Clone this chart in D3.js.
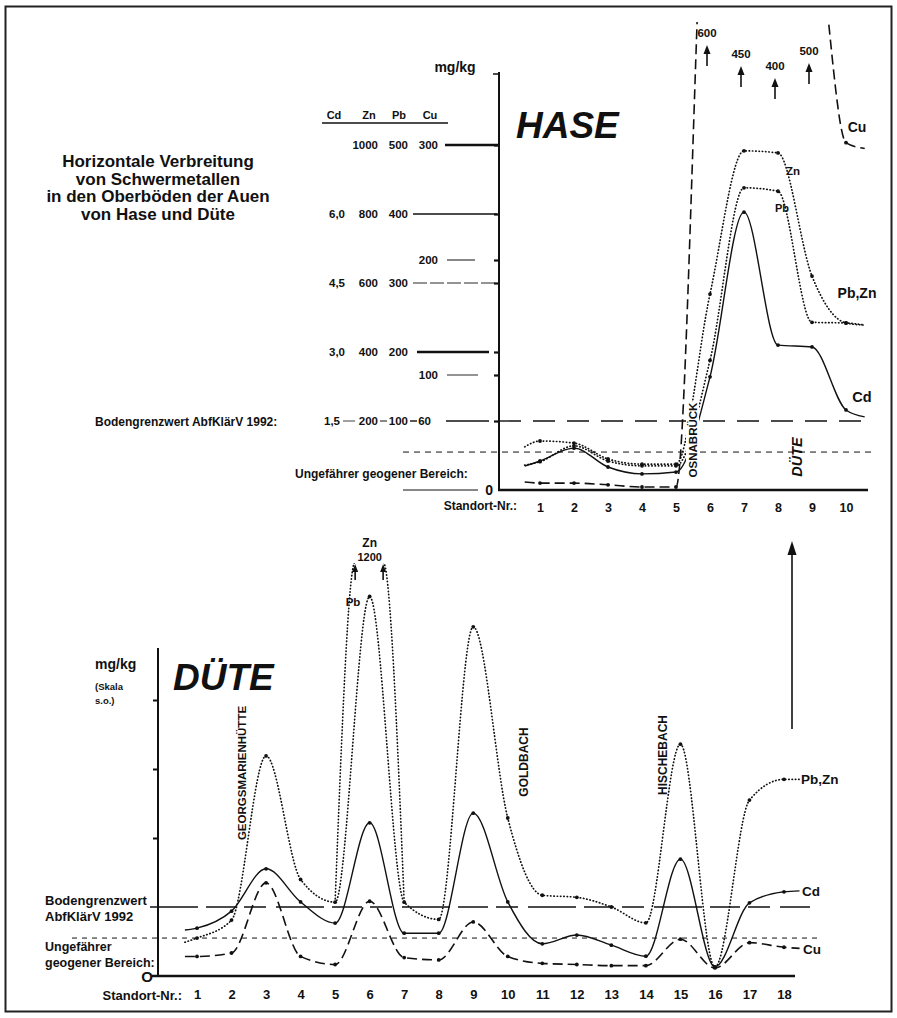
<!DOCTYPE html>
<html>
<head>
<meta charset="utf-8">
<script src="https://cdn.jsdelivr.net/npm/d3@7"></script>
<style>
  body { margin: 0; background: #fff; }
  svg { font-family: "Liberation Sans", Arial, sans-serif; font-weight: bold; }
  text { fill: #111; }
</style>
</head>
<body>
<script>
// ---------- data ----------
// Hase: Standort 1-10, first/last entry = where the drawn line starts/ends
var haseSites = [1, 2, 3, 4, 5, 6, 7, 8, 9, 10];
var haseLinePos = [0.55, 1, 2, 3, 4, 5, 6, 7, 8, 9, 10, 10.55];
var haseCd = [0.52, 0.63, 0.91, 0.50, 0.35, 0.39, 2.46, 6.04, 3.15, 3.11, 1.74, 1.59];
var haseZn = [125, 142, 136, 90, 75, 75, 568, 983, 977, 620, 484, 478];
var hasePb = [36, 41, 64, 42, 35, 35, 188, 438, 433, 243, 242, 239];
var haseCu = [7, 6, 6, 4.5, 2.6, 2.6, 600, 450, 400, 500, 302, 297];
// off-scale Cu values written at the arrows
var haseCuArrowSites = [6, 7, 8, 9];
var haseCuArrowLabels = ["600", "450", "400", "500"];

// multi-scale tick table (Cd, Zn, Pb, Cu)
var tickCd = ["", "6,0", "", "4,5", "3,0", "", "1,5"];
var tickZn = ["1000", "800", "", "600", "400", "", "200"];
var tickPb = ["500", "400", "", "300", "200", "", "100"];
var tickCu = ["300", "", "200", "", "", "100", "60"];

var grenzwertZn = 200;   // Bodengrenzwert AbfKlärV 1992 (Zn-Skala)
var geogenZn = 110;      // ungefährer geogener Bereich

// Düte: Standort 1-18
var duteSites = d3.range(1, 19);
var duteLinePos = [0.65].concat(duteSites, [18.45]);
var duteCd = [1.0, 1.04, 1.41, 2.33, 1.61, 1.15, 3.33, 0.93, 0.93, 3.54, 1.61, 0.70, 0.89, 0.67, 0.43, 2.54, 0.20, 1.59, 1.83, 1.85];
var dutePbZn = [49, 55, 81, 319, 140, 107, 550, 107, 82, 506, 229, 117, 114, 100, 77, 336, 13, 255, 285, 285]; // Pb-Skala
var duteCu = [17, 17, 20, 81, 17, 10, 65, 16, 14, 47, 17, 11, 10, 9, 9, 32, 7, 29, 25, 24];
// Zn at Standort 6 leaves the scale (1200)
var duteZnPos = [5, 5.58, 6.39, 7];
var duteZnVal = [214, 1200, 1200, 214];

// ---------- svg ----------
var svg = d3.select("body").append("svg")
  .attr("width", 897)
  .attr("height", 1018);

svg.append("rect")
  .attr("x", 5.5).attr("y", 6.5)
  .attr("width", 886).attr("height", 1005)
  .attr("fill", "none").attr("stroke", "#222").attr("stroke-width", 2);

var defs = svg.append("defs");

var lineGen = d3.line()
  .curve(d3.curveMonotoneX)
  .x(function(d) { return d[0]; })
  .y(function(d) { return d[1]; });

var styles = {
  cd: { dash: null, w: 1.4, cap: "butt" },
  dot: { dash: "0.4,2.9", w: 1.7, cap: "round" },
  cu: { dash: "10,5", w: 1.6, cap: "butt" }
};

function drawSeries(g, pos, vals, xs, ys, st, withDots, minY) {
  var pts = pos.map(function(p, i) { return [xs(p), ys(vals[i])]; });
  g.append("path")
    .datum(pts)
    .attr("d", lineGen)
    .attr("fill", "none")
    .attr("stroke", "#111")
    .attr("stroke-width", st.w)
    .attr("stroke-linecap", st.cap)
    .attr("stroke-dasharray", st.dash);
  if (withDots) {
    pos.forEach(function(p, i) {
      var y = ys(vals[i]);
      if (Number.isInteger(p) && y > minY) {
        g.append("circle").attr("cx", xs(p)).attr("cy", y).attr("r", 1.9).attr("fill", "#111");
      }
    });
  }
}

function upArrow(g, x, yTop, yBottom, hw, hl) {
  g.append("line").attr("x1", x).attr("x2", x).attr("y1", yBottom).attr("y2", yTop + hl - 1)
    .attr("stroke", "#111").attr("stroke-width", 1.6);
  g.append("path")
    .attr("d", "M" + x + "," + yTop + "L" + (x - hw) + "," + (yTop + hl) + "L" + (x + hw) + "," + (yTop + hl) + "Z")
    .attr("fill", "#111");
}

function vText(g, x, y, txt, size, italic) {
  g.append("text")
    .attr("transform", "translate(" + x + "," + y + ") rotate(-90)")
    .attr("text-anchor", "middle")
    .attr("dy", "0.36em")
    .style("font-size", size + "px")
    .style("font-style", italic ? "italic" : "normal")
    .text(txt);
}

// ---------- title ----------
var titleLines = ["Horizontale Verbreitung", "von Schwermetallen", "in den Oberböden der Auen", "von Hase und Düte"];
svg.append("g").selectAll("text").data(titleLines).join("text")
  .attr("x", 158)
  .attr("y", function(d, i) { return 167 + i * 17.6; })
  .attr("text-anchor", "middle")
  .style("font-size", "17px")
  .text(function(d) { return d; });

// =====================================================
// HASE
// =====================================================
var hase = svg.append("g");
var hx = d3.scaleLinear().domain([1, 10]).range([540, 846]);
var hZn = d3.scaleLinear().domain([0, 1000]).range([490, 145]);
var hCd = hZn.copy().domain([0, 7.5]);
var hPb = hZn.copy().domain([0, 500]);
var hCu = hZn.copy().domain([0, 300]);

// plot clip: lines run off the top of the page; between Standort 6 and 9 the
// off-scale Cu stretch stays hidden
var hClip = defs.append("clipPath").attr("id", "haseClip");
hClip.append("rect").attr("x", 500).attr("y", 22).attr("width", hx(6) - 500).attr("height", 472);
hClip.append("rect").attr("x", hx(6)).attr("y", 45).attr("width", hx(9) - hx(6)).attr("height", 449);
hClip.append("rect").attr("x", hx(9)).attr("y", 22).attr("width", 880 - hx(9)).attr("height", 472);

// tick table
var rowY = tickCu.map(function(c, i) { return tickZn[i] ? hZn(+tickZn[i]) : hCu(+c); });
var rowLine = [[445, 499], [413, 497], [447, 475], [413, 497], [417, 489], [447, 478], [446, 489]];
var rowW = [2.4, 1.6, 1, 0.9, 2.6, 0.9, 1.3];
var colEnd = [345, 378, 408, 438];

hase.append("text").attr("x", 455).attr("y", 72).attr("text-anchor", "middle")
  .style("font-size", "14px").text("mg/kg");

["Cd", "Zn", "Pb", "Cu"].forEach(function(h, i) {
  hase.append("text").attr("x", [334, 369, 399, 430][i]).attr("y", 119)
    .attr("text-anchor", "middle").style("font-size", "11px").text(h);
});
hase.append("line").attr("x1", 322).attr("x2", 448).attr("y1", 123).attr("y2", 123)
  .attr("stroke", "#111").attr("stroke-width", 1.3);

rowY.forEach(function(y, i) {
  var cols = [tickCd[i], tickZn[i], tickPb[i], tickCu[i]];
  var last = i === rowY.length - 1;
  cols.forEach(function(t, j) {
    if (!t) return;
    hase.append("text")
      .attr("x", last ? [340, 378, 408, 431][j] : colEnd[j])
      .attr("y", y + 4.3)
      .attr("text-anchor", "end")
      .style("font-size", "11.5px")
      .text(t);
  });
  if (last) {
    [[343, 355, 0.8], [380, 387, 1], [410, 417, 1.4]].forEach(function(s) {
      hase.append("line").attr("x1", s[0]).attr("x2", s[1]).attr("y1", y).attr("y2", y)
        .attr("stroke", "#111").attr("stroke-width", s[2]);
    });
  }
  hase.append("line")
    .attr("x1", rowLine[i][0]).attr("x2", rowLine[i][1])
    .attr("y1", y).attr("y2", y)
    .attr("stroke", "#111").attr("stroke-width", rowW[i])
    .attr("stroke-dasharray", i === 3 ? "14,3" : null);
});

// axis ticks on the y-axis
hase.append("g")
  .attr("transform", "translate(499,0)")
  .call(d3.axisLeft(hZn).tickValues(rowY.map(function(y) { return hZn.invert(y); })).tickSize(5).tickFormat(""))
  .call(function(g) { g.select(".domain").remove(); })
  .selectAll("line").attr("stroke", "#111").attr("stroke-width", 2.2);

// y-axis line
hase.append("line").attr("x1", 499).attr("x2", 499).attr("y1", 72).attr("y2", 491)
  .attr("stroke", "#111").attr("stroke-width", 2);
hase.append("line").attr("x1", 493).attr("x2", 499).attr("y1", 74).attr("y2", 74)
  .attr("stroke", "#111").attr("stroke-width", 1.5);

// reference lines
hase.append("line").attr("x1", 499).attr("x2", 872)
  .attr("y1", hZn(grenzwertZn)).attr("y2", hZn(grenzwertZn))
  .attr("stroke", "#111").attr("stroke-width", 1.4).attr("stroke-dasharray", "22,12");
hase.append("line").attr("x1", 403).attr("x2", 872)
  .attr("y1", hZn(geogenZn)).attr("y2", hZn(geogenZn))
  .attr("stroke", "#111").attr("stroke-width", 1).attr("stroke-dasharray", "6,5");

hase.append("text").attr("x", 95).attr("y", hZn(grenzwertZn) + 4.5)
  .style("font-size", "12px").text("Bodengrenzwert AbfKlärV 1992:");
hase.append("text").attr("x", 295).attr("y", 478)
  .style("font-size", "12px").text("Ungefährer geogener Bereich:");

// zero line + x-axis
hase.append("line").attr("x1", 403).attr("x2", 478).attr("y1", hZn(0)).attr("y2", hZn(0))
  .attr("stroke", "#111").attr("stroke-width", 1);
hase.append("text").attr("x", 493).attr("y", hZn(0) + 5).attr("text-anchor", "end")
  .style("font-size", "14px").text("0");
hase.append("line").attr("x1", 498).attr("x2", 868).attr("y1", hZn(0)).attr("y2", hZn(0))
  .attr("stroke", "#111").attr("stroke-width", 2.6);

hase.append("g")
  .attr("transform", "translate(0," + hZn(0) + ")")
  .call(d3.axisBottom(hx).tickValues(haseSites).tickSize(0).tickPadding(13).tickFormat(d3.format("d")))
  .call(function(g) { g.select(".domain").remove(); })
  .selectAll("text").style("font-size", "12.5px").style("font-family", "inherit").attr("fill", "#111");
hase.append("text").attr("x", 517).attr("y", 510).attr("text-anchor", "end")
  .style("font-size", "12px").text("Standort-Nr.:");

hase.append("text").attr("x", 516).attr("y", 138)
  .style("font-size", "37px").style("font-style", "italic").text("HASE");

// series
var hPlot = hase.append("g").attr("clip-path", "url(#haseClip)");
drawSeries(hPlot, haseLinePos, haseCu, hx, hCu, styles.cu, true, 30);
drawSeries(hPlot, haseLinePos, haseZn, hx, hZn, styles.dot, true, 30);
drawSeries(hPlot, haseLinePos, hasePb, hx, hPb, styles.dot, true, 30);
drawSeries(hPlot, haseLinePos, haseCd, hx, hCd, styles.cd, true, 30);

// off-scale arrows for Cu
var arrowTops = [45, 66, 78, 63];
haseCuArrowSites.forEach(function(s, i) {
  var x = hx(s) - 3;
  upArrow(hase, x, arrowTops[i], arrowTops[i] + 21, 3.5, 9);
  hase.append("text").attr("x", x).attr("y", arrowTops[i] - 8).attr("text-anchor", "middle")
    .style("font-size", "11.5px").text(haseCuArrowLabels[i]);
});

// series labels
hase.append("text").attr("x", 857).attr("y", 132).attr("text-anchor", "middle").style("font-size", "14px").text("Cu");
hase.append("text").attr("x", 793).attr("y", 175).attr("text-anchor", "middle").style("font-size", "11.5px").text("Zn");
hase.append("text").attr("x", 782).attr("y", 212).attr("text-anchor", "middle").style("font-size", "11px").text("Pb");
hase.append("text").attr("x", 857).attr("y", 298).attr("text-anchor", "middle").style("font-size", "14px").text("Pb,Zn");
hase.append("text").attr("x", 862).attr("y", 402).attr("text-anchor", "middle").style("font-size", "14.5px").text("Cd");

// river labels
hase.append("rect").attr("x", 686).attr("y", 402).attr("width", 13).attr("height", 77).attr("fill", "#fff");
vText(hase, 693, 440, "OSNABRÜCK", 11.5, false);
vText(hase, 797, 457, "DÜTE", 14.5, true);

// =====================================================
// DÜTE
// =====================================================
var dute = svg.append("g");
var dx = d3.scaleLinear().domain([1, 18]).range([197, 784]);
var dZn = d3.scaleLinear().domain([0, 1000]).range([976, 631]);
var dCd = dZn.copy().domain([0, 7.5]);
var dPb = dZn.copy().domain([0, 500]);
var dCu = dZn.copy().domain([0, 300]);

dute.append("text").attr("x", 95).attr("y", 669).style("font-size", "14px").text("mg/kg");
dute.append("text").attr("x", 95).attr("y", 690).style("font-size", "9.5px").text("(Skala");
dute.append("text").attr("x", 95).attr("y", 704).style("font-size", "9.5px").text("s.o.)");

dute.append("text").attr("x", 173).attr("y", 690)
  .style("font-size", "37px").style("font-style", "italic").text("DÜTE");

// y-axis
dute.append("line").attr("x1", 158).attr("x2", 158).attr("y1", 648).attr("y2", 977)
  .attr("stroke", "#111").attr("stroke-width", 2);
dute.append("g")
  .attr("transform", "translate(158,0)")
  .call(d3.axisLeft(dZn).tickValues([400, 600, 800]).tickSize(5).tickFormat(""))
  .call(function(g) { g.select(".domain").remove(); })
  .selectAll("line").attr("stroke", "#111").attr("stroke-width", 2);

// reference lines
dute.append("line").attr("x1", 150).attr("x2", 810)
  .attr("y1", dZn(grenzwertZn)).attr("y2", dZn(grenzwertZn))
  .attr("stroke", "#111").attr("stroke-width", 1.4).attr("stroke-dasharray", "48,8,30,8,22,10");
dute.append("line").attr("x1", 72).attr("x2", 818)
  .attr("y1", dZn(geogenZn)).attr("y2", dZn(geogenZn))
  .attr("stroke", "#111").attr("stroke-width", 1).attr("stroke-dasharray", "5,5");

dute.append("text").attr("x", 45).attr("y", 905).style("font-size", "13px").text("Bodengrenzwert");
dute.append("text").attr("x", 45).attr("y", 921).style("font-size", "13px").text("AbfKlärV 1992");
dute.append("text").attr("x", 45).attr("y", 951).style("font-size", "12.5px").text("Ungefährer");
dute.append("text").attr("x", 45).attr("y", 967).style("font-size", "12.5px").text("geogener Bereich:");

// x-axis
dute.append("line").attr("x1", 152).attr("x2", 795).attr("y1", dZn(0)).attr("y2", dZn(0))
  .attr("stroke", "#111").attr("stroke-width", 2.6);
dute.append("text").attr("x", 153).attr("y", dZn(0) + 6).attr("text-anchor", "end")
  .style("font-size", "15px").text("O");
dute.append("g")
  .attr("transform", "translate(0," + dZn(0) + ")")
  .call(d3.axisBottom(dx).tickValues(duteSites).tickSize(0).tickPadding(14).tickFormat(d3.format("d")))
  .call(function(g) { g.select(".domain").remove(); })
  .selectAll("text").style("font-size", "13px").style("font-family", "inherit").attr("fill", "#111");
dute.append("text").attr("x", 182).attr("y", 1000).attr("text-anchor", "end")
  .style("font-size", "13px").text("Standort-Nr.:");

// series
drawSeries(dute, duteLinePos, duteCu, dx, dCu, styles.cu, true, 0);
drawSeries(dute, duteLinePos, dutePbZn, dx, dPb, styles.dot, true, 0);
drawSeries(dute, duteLinePos, duteCd, dx, dCd, styles.cd, true, 0);

// Zn branch leaving the scale at Standort 6
defs.append("clipPath").attr("id", "znClip")
  .append("rect").attr("x", 300).attr("y", dZn(1200) + 1).attr("width", 150).attr("height", 400);
var znBranch = dute.append("g").attr("clip-path", "url(#znClip)");
drawSeries(znBranch, duteZnPos, duteZnVal, dx, dZn, styles.dot, false, 0);
[duteZnPos[1], duteZnPos[2]].forEach(function(p) {
  upArrow(dute, dx(p), dZn(1200) + 2, dZn(1200) + 18, 3, 8);
});
dute.append("text").attr("x", dx(6)).attr("y", 547).attr("text-anchor", "middle").style("font-size", "12px").text("Zn");
dute.append("text").attr("x", dx(6)).attr("y", 561).attr("text-anchor", "middle").style("font-size", "11px").text("1200");
dute.append("text").attr("x", 353).attr("y", 606).attr("text-anchor", "middle").style("font-size", "11.5px").text("Pb");

// series labels
dute.append("text").attr("x", 801).attr("y", dPb(285) + 5).style("font-size", "13.5px").text("Pb,Zn");
dute.append("text").attr("x", 802).attr("y", dCd(1.85) + 5).style("font-size", "13.5px").text("Cd");
dute.append("text").attr("x", 803).attr("y", dCu(24) + 6).style("font-size", "13.5px").text("Cu");

// tributary labels
vText(dute, 242, 773, "GEORGSMARIENHÜTTE", 11.5, false);
vText(dute, 524, 762, "GOLDBACH", 12, false);
vText(dute, 663, 755, "HISCHEBACH", 12, false);

// connecting arrow (Düte mouth -> Hase)
upArrow(svg, 792, 541, 729, 4.5, 14);
</script>
</body>
</html>
